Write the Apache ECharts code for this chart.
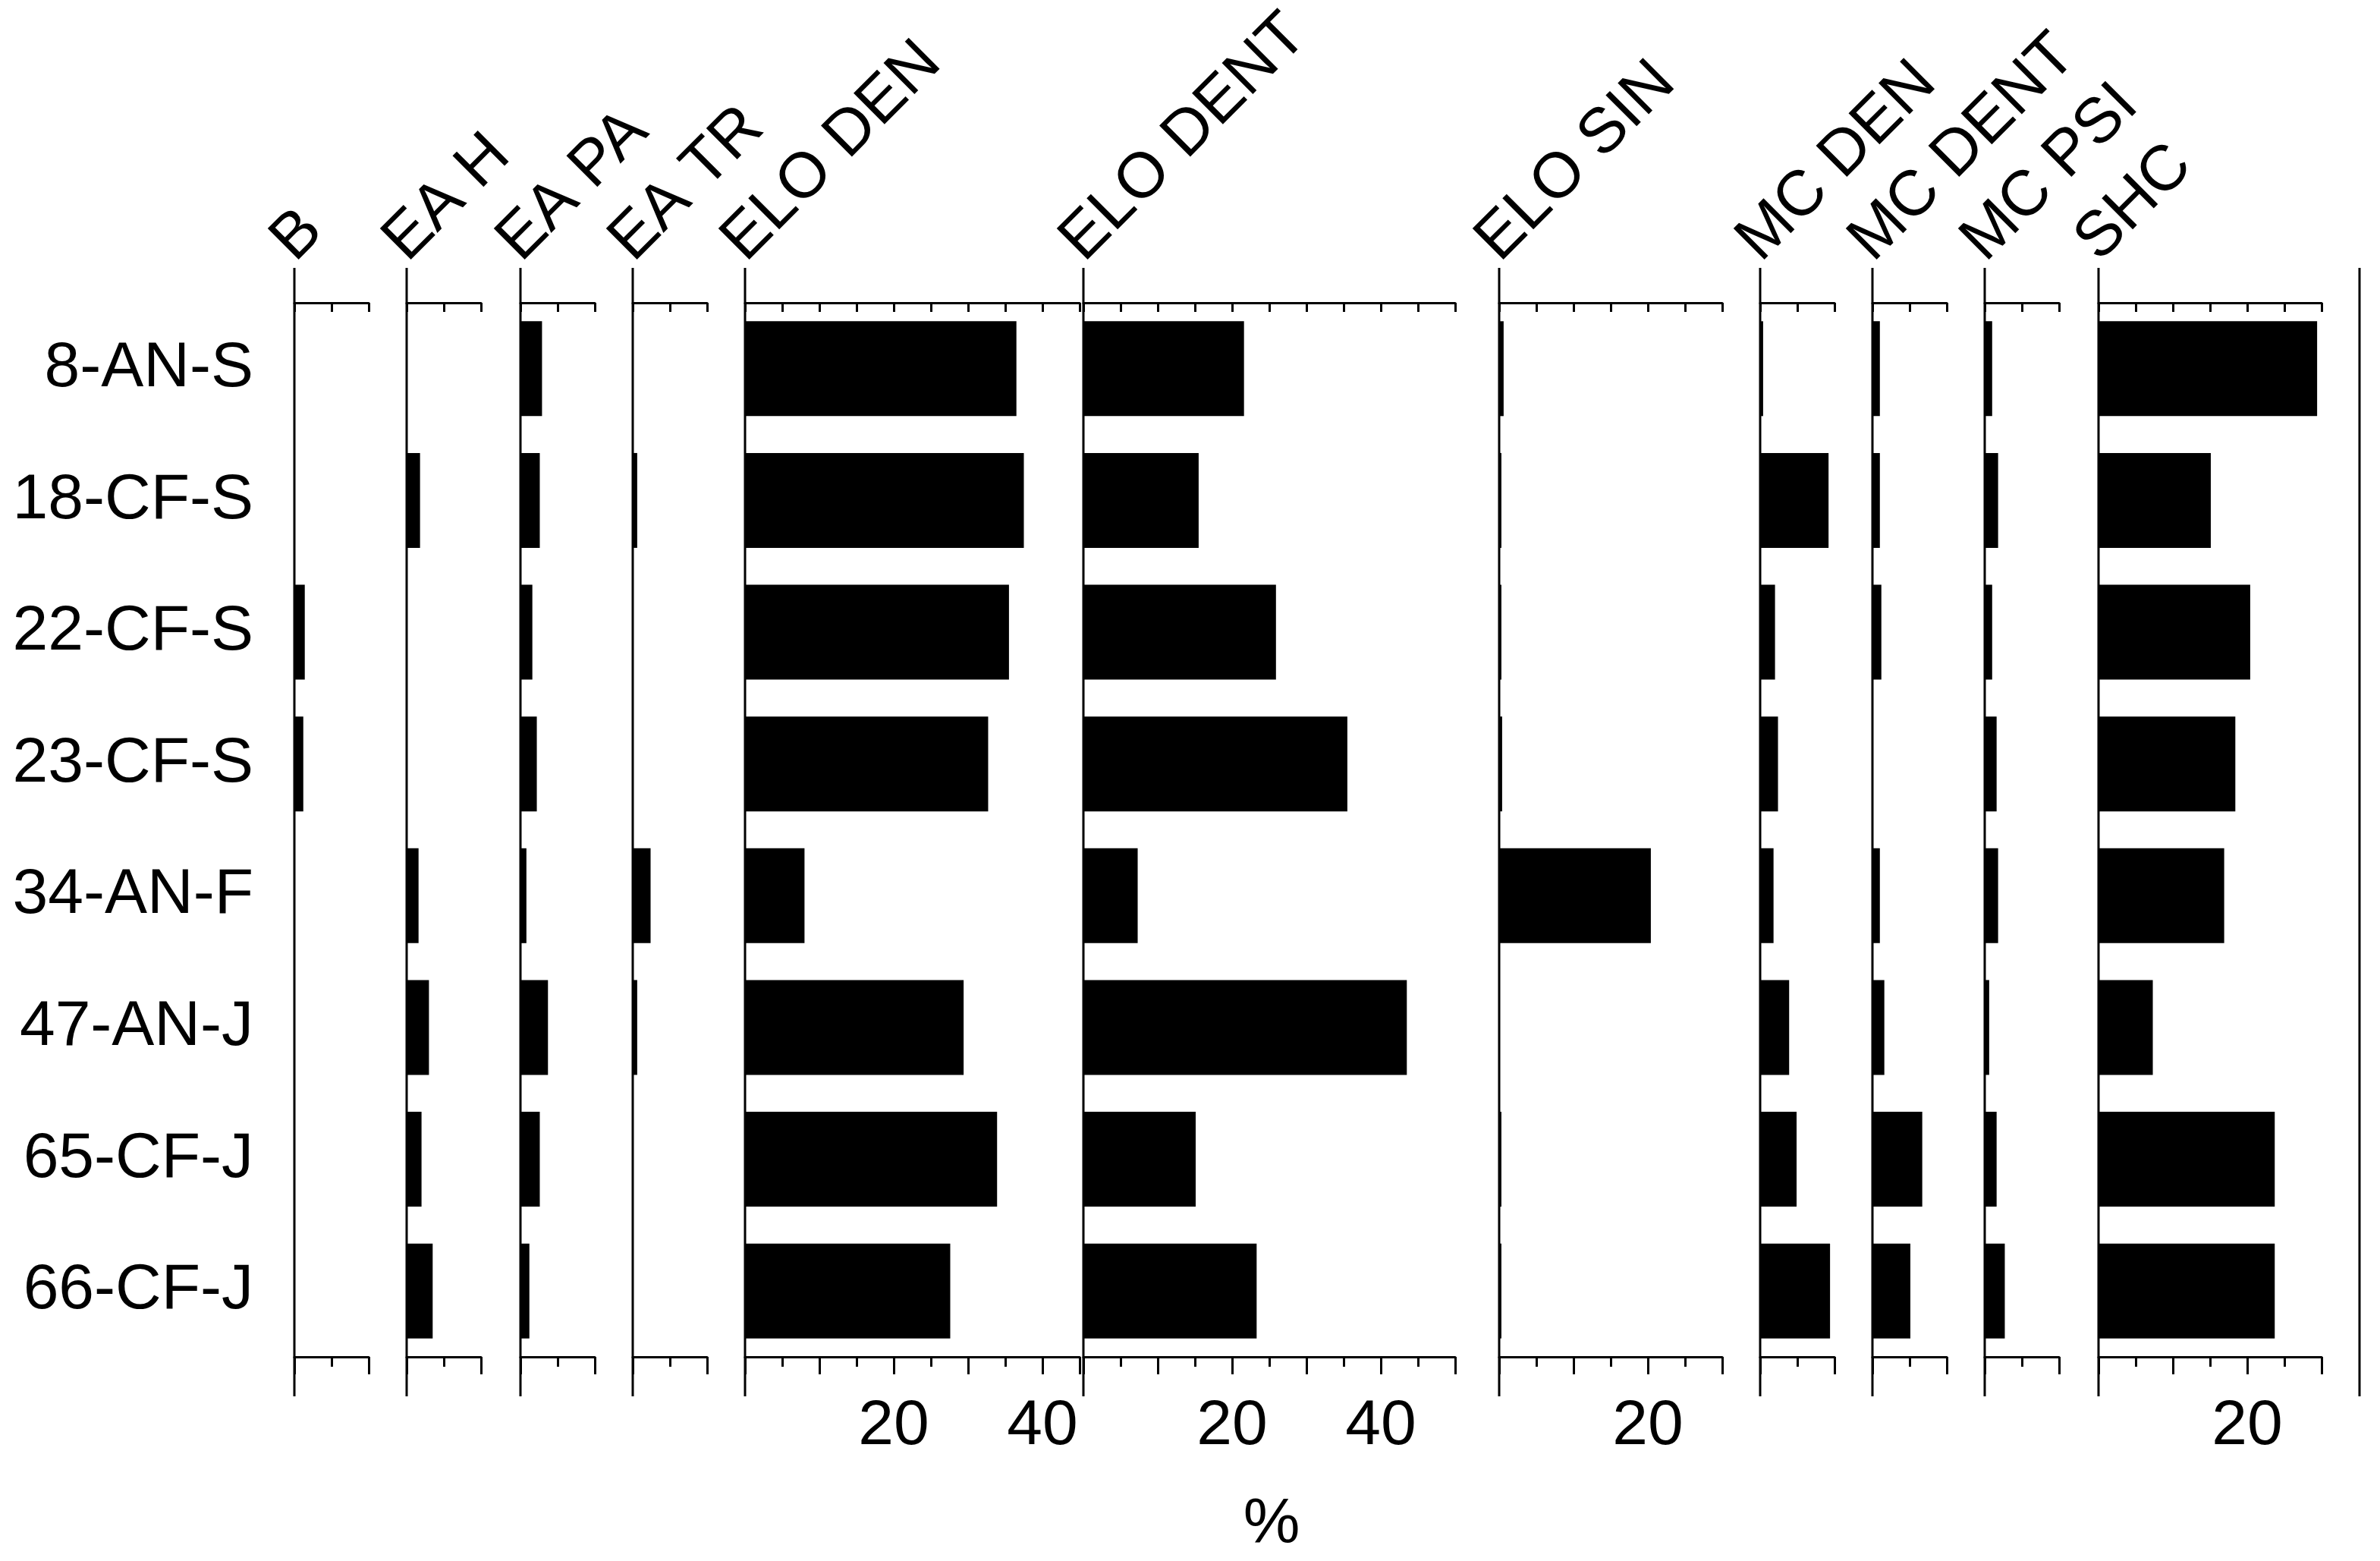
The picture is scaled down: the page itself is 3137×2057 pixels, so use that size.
<!DOCTYPE html>
<html>
<head>
<meta charset="utf-8">
<script src="https://cdn.jsdelivr.net/npm/echarts@6/dist/echarts.min.js"></script>
<style>html,body{margin:0;background:#fff}#main{width:3137px;height:2057px}</style>
</head>
<body>
<div id="main"></div>
<script>
// samples, top to bottom
var samples = ['8-AN-S', '18-CF-S', '22-CF-S', '23-CF-S', '34-AN-F', '47-AN-J', '65-CF-J', '66-CF-J'];
var taxa = ['B', 'EA H', 'EA PA', 'EA TR', 'ELO DEN', 'ELO DENT', 'ELO SIN', 'MC DEN', 'MC DENT', 'MC PSI', 'SHC'];
var axisMax = [10, 10, 10, 10, 45, 50, 30, 10, 10, 10, 30];

// percentages per taxon (same order as samples)
var vB      = [0, 0, 1.4, 1.2, 0, 0, 0, 0];
var vEAH    = [0, 1.8, 0, 0, 1.6, 3.0, 2.0, 3.5];
var vEAPA   = [2.9, 2.6, 1.6, 2.2, 0.8, 3.7, 2.6, 1.2];
var vEATR   = [0, 0.6, 0, 0, 2.4, 0.6, 0, 0];
var vELODEN = [36.5, 37.5, 35.5, 32.7, 8.0, 29.4, 33.9, 27.6];
var vELODENT= [21.6, 15.5, 25.9, 35.5, 7.3, 43.5, 15.1, 23.3];
var vELOSIN = [0.6, 0.3, 0.3, 0.4, 20.4, 0, 0.3, 0.3];
var vMCDEN  = [0.4, 9.2, 2.0, 2.4, 1.8, 3.9, 4.9, 9.4];
var vMCDENT = [1.0, 1.0, 1.2, 0, 1.0, 1.6, 6.7, 5.1];
var vMCPSI  = [1.0, 1.8, 1.0, 1.6, 1.8, 0.6, 1.6, 2.7];
var vSHC    = [29.4, 15.1, 20.4, 18.4, 16.9, 7.3, 23.7, 23.7];
var values = [vB, vEAH, vEAPA, vEATR, vELODEN, vELODENT, vELOSIN, vMCDEN, vMCDENT, vMCPSI, vSHC];
var shownTicks = [20, 40];

// layout
var W = 3137, TOP = 399, BOT = 1788, PX = 9.8;
var lefts = [388, 536, 686, 834, 982, 1428, 1976, 2320, 2468, 2616, 2766];
var lastLine = 3110;
var font = 'Liberation Sans, Arial, sans-serif';

var grids = [], xAxes = [], yAxes = [], series = [], graphics = [];
taxa.forEach(function (t, i) {
  var w = axisMax[i] * PX;
  grids.push({left: lefts[i], width: w, top: TOP, height: BOT - TOP});
  xAxes.push({
    gridIndex: i, type: 'value', min: 0, max: axisMax[i], interval: 10, position: 'bottom',
    axisLine: {show: true, onZero: false, lineStyle: {color: '#000', width: 3}},
    axisTick: {show: true, length: 23, lineStyle: {color: '#000', width: 3}},
    minorTick: {show: true, splitNumber: 2, length: 13, lineStyle: {color: '#000', width: 3}},
    splitLine: {show: false},
    axisLabel: {margin: 50, fontSize: 84, color: '#000', fontFamily: font,
      showMinLabel: true, showMaxLabel: true,
      formatter: function (v) { return shownTicks.indexOf(v) >= 0 ? String(v) : ''; }}
  });
  xAxes.push({
    gridIndex: i, type: 'value', min: 0, max: axisMax[i], interval: 5, position: 'top',
    axisLine: {show: true, onZero: false, lineStyle: {color: '#000', width: 3}},
    axisTick: {show: true, inside: true, length: 12, lineStyle: {color: '#000', width: 3}},
    splitLine: {show: false}, axisLabel: {show: false}
  });
  yAxes.push({
    gridIndex: i, type: 'category', data: samples, inverse: true,
    axisLine: {show: false}, axisTick: {show: false}, splitLine: {show: false},
    axisLabel: {show: i === 0, margin: 54, fontSize: 84, color: '#000', fontFamily: font}
  });
  series.push({
    type: 'bar', xAxisIndex: 2 * i, yAxisIndex: i, data: values[i],
    barWidth: '72%', itemStyle: {color: '#000'}, silent: true
  });
  graphics.push({type: 'line', shape: {x1: lefts[i], y1: 353, x2: lefts[i], y2: 1840},
    style: {stroke: '#000', lineWidth: 3}});
  graphics.push({type: 'text', x: lefts[i] + 14, y: 360, rotation: Math.PI / 4,
    style: {text: t, fontSize: 84, fontFamily: font, fill: '#000', textAlign: 'left', textVerticalAlign: 'bottom'}});
});
graphics.push({type: 'line', shape: {x1: lastLine, y1: 353, x2: lastLine, y2: 1840},
  style: {stroke: '#000', lineWidth: 3}});
graphics.push({type: 'text', x: 1676, y: 2010,
  style: {text: '%', fontSize: 84, fontFamily: font, fill: '#000', textAlign: 'center', textVerticalAlign: 'middle'}});

var chart = echarts.init(document.getElementById('main'));
chart.setOption({
  animation: false,
  backgroundColor: '#fff',
  grid: grids, xAxis: xAxes, yAxis: yAxes, series: series, graphic: graphics
});
</script>
</body>
</html>
